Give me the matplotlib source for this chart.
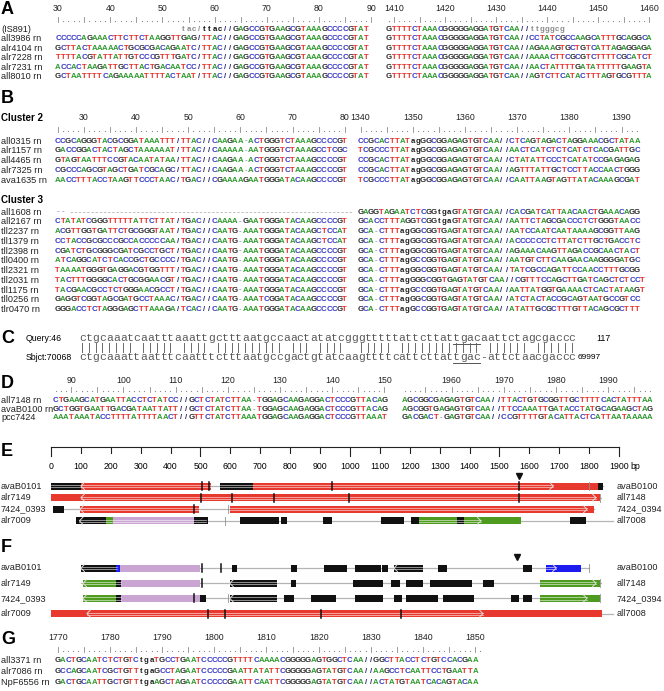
import matplotlib
matplotlib.use('Agg')
import matplotlib.pyplot as plt
from matplotlib.patches import Rectangle

plt.rcParams['font.family'] = ['Liberation Sans', 'DejaVu Sans']

# ---------------- panel A ----------------
a_names = ['all3986 rn', 'alr4104 rn', 'alr7228 rn', 'alr7231 rn', 'all8010 rn']
a_left = ['CCCCCAGAAACTTCTTCTAAGGTTGAG/TTAC//GAGCCGTGAAGCGTAAAGCCCCGTAT',
          'GCTTACTAAAAACTGCGCGACAGAATC/TTAC//GAGCCGTGAAGCGTAAAGCCCCGTAT',
          'TTTTACGTATTATTGTCCCGTTTGATC/TTAC//GAGCCGTGAAGCGTAAAGCCCCGTAT',
          'ACCACTAAGATTGCTTACTGACAATCC/TTAC//GAGCCGTGAAGCGTAAAGCCCCGTAT',
          'GCTAATTTTCAGAAAAATTTTACTAAT/TTAC//GAGCCGTGAAGCGTAAAGCCCCGTAT']
a_right = ['GTTTTCTAAACGGGGGAGGATGTCAA//CCTATCGCCAAGCATTTGCAGGCA',
           'GTTTTCTAAACGGGGGAGGATGTCAA//AGAAAGTGCTGTCATTAGAGGAGA',
           'GTTTTCTAAACGGGGGAGGATGTCAA//AAAACTTCGCGTCTTTTCGCATCT',
           'GTTTTCTAAACGGGGGAGGATGTCAA//AACTATTTTGATATTTTTGAAGTA',
           'GTTTTCTAAACGGGGGAGGATGTCAA//AGTCTTCATACTTTAGTGCGTTTA']
a_is891_left = ' ' * 24 + 'tac/ttac//GAGCCGTGAAGCGTAAAGCCCCGTAT'
a_is891_right = 'GTTTTCTAAACGGGGGAGGATGTCAA//ttgggcg'
a_ruler = [(30, 90), (1409, 1460)]

# ---------------- panel B ----------------
b2_names = ['all0315 rn', 'alr1157 rn', 'all4465 rn', 'alr7325 rn', 'ava1635 rn']
b2_left = ['CCGCAGGGTACGCGGATAAATTT/TTAC//CAAGAA-ACTGGGTCTAAAGCCCCGT',
           'GACCGGACTACTAGCTAAAAAAT/TTAC//CAAAAA-AATGGGTCTAAAGCCTCGC',
           'GTAGTAATTTCCGTACAATATAA/TTAC//CAAGAA-ACTGGGTCTAAAGCCCCGT',
           'CGCCCAGCGTAGCTGATCGCAGC/TTAC//CAAGAA-ACTGGGTCTAAAGCCCCGT',
           'AACCTTTACCTAAGTTCCCTAAC/TGAC//CGAAAAGAATGGGATACAAGCCCCGT']
b2_right = ['CCGCACTTATagGGCGGAGAGTGTCAA//CTCAGTAGACTAGGAAACGCTATAA',
            'TCGCCCTTATagGGCGGAGAGTGTCAA//AACTCATCTCTCATCTCACGATTGC',
            'CCGCACTTATagGGCGGAGAGTGTCAA//CTATATTCCCTCATATCCGAGAGAG',
            'CCGCACTTATagGGCGGAGAGTGTCAA//AGTTTATTGCTCCTTACCAACTGGG',
            'TCGCCCTTATagGGCGGAGAGTGTCAA//CAATTAAGTAGTTATACAAAGCGAT']
b3_names = ['all1608 rn', 'all2167 rn', 'tll2237 rn', 'tll1379 rn', 'tll2398 rn', 'tll0400 rn',
            'tll2321 rn', 'tll2031 rn', 'tll1175 rn', 'tll0256 rn', 'tlr0470 rn']
b3_left = ['--',
           'CTATATCGGGTTTTTATTCTTAT/TGAC//CAAAA-GAATGGGATACAAGCCCCGT',
           'ACGTTGGTGATTCTGCGGGTAAT/TGAC//CAATG-AAATGGGATACAAGCTCCAT',
           'CCTACCGCGCCCGCCACCCCCAA/TGAC//CAATG-AAATGGGATACAAGCTCCAT',
           'CGATCTGCGGGCGATCGCCTGCT/TGAC//CAATG-AAATGGGATACAAGCCCCGT',
           'ATCAGGCATCTCACCGCTGCCCC/TGAC//CAATG-AAATGGGATACAAGCCCCGT',
           'TAAAATGGGTGAGGACGTGGTTT/TGAC//CAATG-AAATGGGATACAAGCCCCGT',
           'TACTTTGGGGCACTGCGGAACGT/TGAC//CAATG-AAATGGGATACAAGCCCCGT',
           'TACGAACGCCTCTGGGAACGCCT/TGAC//CAATG-AAATGGGATACAAGCCCCGT',
           'GAGGTCGGTAGCGATGCCTAAAC/TGAC//CAATG-AAATCGGATACAAGCCCCGT',
           'GGGACCTCTAGGGAGCTTAAAGA/TCAC//CAATG-AAATGGGATACAAGCCCCGT']
b3_right = ['GAGGTAGAATCTCGGtgaGTATGTCAA//CACGATCATTAACAACTGAAACAGG',
            'GCACCTTTAGGTCGGtgaGTATGTCAA//AATTCTAGCGACCCTCTGGGTAACC',
            'GCA-CTTTagGGCGGTGAGTATGTCAA//AATCCAATCAATAAAAGCGGTTAAG',
            'GCA-CTTTagGGCGGTGAGTATGTCAA//ACCCCCCTCTTATCTTGCTGACCTC',
            'GCA-CTTTagGGCGGTGAGTATGTCAA//AGAAACAAGTTAGACCGCAACTACT',
            'GCA-CTTTagGCCGGTGAGTATGTCAA//AATGTCTTCAAGAACAAGGGGATGC',
            'GCA-CTTTagGGCGGTGAGTATGTCAA//TATCGCCAGATTCCAACCTTTGCGG',
            'GCA-CTTTagGGGCGGTGAGTATGTCAA//CGTTTCCAGCTTGATCAGCTCTCCT',
            'GCA-CTTTagGCCGGTGAGTATGTCAA//AATTATGGTGAAAACTCACTATAAGT',
            'GCA-CTTTagGGCGGTGAGTATGTCAA//ATCTACTACCGCAGTAATGCCGTCC',
            'GCA-CTTTagGCCGGTGAGTATGTCAA//ATATTGCGCTTTGTTACAGCGCTTT']
b_ruler = [(25, 80), (1340, 1393)]

# ---------------- panel C ----------------
c_query = 'ctgcaaatcaatttaaattgctttaatgccaactatatcgggtttttattcttattgacaattctagcgaccc'
c_sbjct = 'ctgcaaattaatttcaatttctttaatgccgactgtatcaagttttcattcttattgac-attctaacgaccc'
c_names = ['Query:46', 'Sbjct:70068']
c_ends = ['117', '69997']
c_motif = (55, 58)

# ---------------- panel D ----------------
d_names = ['all7148 rn', 'avaB0100 rn', 'pcc7424']
d_left = ['CTGAAGCATGAATTACCTCTATCC//GCTCTATCTTAA-TGGAGCAAGAGGACTCCCGTTACAG',
          'GCTGGTGAATTGACGATAATTATT//GCTCTATCTTAA-TGGAGCAAGAGGACTCCCGTTACAG',
          'AAATAAATACCTTTTATTTTAACT//GTTCTATCTTAAATGGAGCAAGAGGACTCCCGTTAAAT']
d_right = ['AGCGGCGAGAGTGTCAA//TTACTGTGCGGTTGCTTTTCACTATTTAA',
           'AGCGGTGAGAGTGTCAA//TTCCAAATTGATACCTATGCAGAAGCTAG',
           'GACGACT-GAGTGTCAA//CCGTTTTGTACATTACTCATTAATAAAAA']
d_ruler = [(87, 150), (1951, 1998)]

# ---------------- panels E / F (bp) ----------------
ef_left_names = ['avaB0101', 'alr7149', '7424_0393', 'alr7009']
ef_right_names = ['avaB0100', 'all7148', '7424_0394', 'all7008']
e_tracks = [
    dict(line=(0, 1845), segs=[(0, 100, 'k'), (100, 535, 'r'), (565, 676, 'k'), (676, 1836, 'r'), (1830, 1845, 'k')],
         ticks=[505, 528, 940, 1565], thin=[1800], arrows=[(0, 100, ''), (100, 535, '<'), (565, 1680, '>')]),
    dict(line=(0, 1840), segs=[(0, 1836, 'r')],
         ticks=[502, 605, 746, 997, 1565], thin=[1836], arrows=[(100, 1823, '<>')]),
    dict(line=(7, 1815), segs=[(7, 43, 'k'), (97, 495, 'r'), (598, 1815, 'r')],
         ticks=[478], thin=[592], arrows=[(97, 495, '<'), (598, 1793, '>')]),
    dict(line=(84, 1880), segs=[(84, 184, 'k'), (184, 207, 'g'), (207, 478, 'p'), (478, 526, 'k'), (632, 762, 'k'),
                                (769, 790, 'k'), (910, 940, 'k'), (1103, 1181, 'k'), (1204, 1231, 'k'),
                                (1231, 1572, 'g'), (1358, 1381, 'k'), (1736, 1790, 'k')],
         ticks=[], thin=[582], arrows=[(95, 520, '<'), (1231, 1438, '>')]),
]
f_tracks = [
    dict(line=(100, 1800), segs=[(100, 216, 'k'), (216, 230, 'b'), (230, 498, 'p'), (605, 622, 'k'), (803, 823, 'k'),
                                 (913, 990, 'k'), (1017, 1103, 'k'), (1107, 1127, 'k'), (1147, 1244, 'k'),
                                 (1294, 1324, 'k'), (1578, 1609, 'k'), (1656, 1773, 'b')],
         ticks=[505, 569], thin=[1800], arrows=[(100, 221, '<'), (1147, 1244, '<'), (1656, 1690, '>')]),
    dict(line=(100, 1840), segs=[(107, 217, 'g'), (217, 234, 'k'), (234, 498, 'p'), (598, 756, 'k'), (803, 819, 'k'),
                                 (1010, 1110, 'k'), (1137, 1167, 'k'), (1187, 1244, 'k'), (1267, 1408, 'k'),
                                 (1445, 1482, 'k'), (1635, 1836, 'g')],
         ticks=[505], thin=[1836], arrows=[(107, 234, '<'), (598, 756, '<'), (1635, 1823, '>')]),
    dict(line=(107, 1836), segs=[(107, 217, 'g'), (217, 234, 'k'), (234, 498, 'p'), (498, 519, 'k'), (598, 756, 'k'),
                                 (779, 812, 'k'), (870, 953, 'k'), (1017, 1110, 'k'), (1147, 1174, 'k'),
                                 (1187, 1294, 'k'), (1311, 1415, 'k'), (1538, 1565, 'k'), (1578, 1609, 'k'),
                                 (1635, 1836, 'g')],
         ticks=[478], thin=[592, 1836], arrows=[(107, 234, '<'), (598, 756, '<'), (1635, 1793, '>')]),
    dict(line=(0, 1880), segs=[(0, 1843, 'r')],
         ticks=[525, 582, 903, 1170], thin=[], arrows=[(120, 1445, '<>')]),
]
e_marker = 1565
f_marker = 1560
e_scale = list(range(0, 2000, 100))

# ---------------- panel G ----------------
g_names = ['all3371 rn', 'alr7086 rn', 'NpF6556 rn']
g_seqs = ['GACTGCAATCTCTGTCtgaTGCCTGAATCCCCCGTTTTCAAAACGGGGGAGTGGCTCAA//GGCTTACCTCTGTCCACGAA',
          'GCCAGCAATCGCTGTTtgaGCCTAGAATCCCCCGAATTATATTCGGGGGAGTATGTCAA//AAGCCTCAATTCCTGAATTA',
          'GACTGCAATTGCTGTTtgaAGCTAGAATCCCCCGAATTCAATTCGGGGGAGTATGTCAA//ACTATGTAATCACAGTACAA']
g_ruler = (1770, 1851)

# ---------------- drawing helpers ----------------
BASE = {'A': '#2f9a2f', 'C': '#3434c8', 'G': '#262626', 'T': '#e2302b',
        '-': '#8a9cc8', '/': '#2c2c72'}
TRK = {'r': '#e8392f', 'k': '#111111', 'g': '#4e9b1f', 'p': '#caa5d4', 'b': '#1c1cf0'}
CW = 5.22
SEQ_FS = 5.6
LAB_FS = 6.6
NUM_FS = 6.3

fig = plt.figure(figsize=(6.64, 6.91), dpi=100)
ax = fig.add_axes([0, 0, 1, 1])
ax.set_xlim(0, 664)
ax.set_ylim(691, 0)
ax.axis('off')


def seq_row(x0, y, s, colors=None, cw=CW):
    for i, ch in enumerate(s):
        if ch == ' ':
            continue
        c = colors[i] if colors else BASE.get(ch, '#222222')
        ax.text(x0 + i * cw, y, ch, color=c, fontsize=SEQ_FS, fontweight='bold',
                ha='center', va='center')


def ruler(x0, y, ylab, start, stop, cw=CW):
    for i, p in enumerate(range(start, stop + 1)):
        x = x0 + i * cw
        if p % 5 == 0:
            ax.plot([x, x], [y - 3.5, y + 1.5], color='#8c8c8c', lw=0.6)
        else:
            ax.plot([x], [y + 1.2], marker='s', ms=0.8, color='#8c8c8c', mew=0)
        if p % 10 == 0:
            ax.text(x, ylab, str(p), fontsize=NUM_FS, ha='center', va='center', color='#222222')


def label(y, txt, x=1):
    ax.text(x, y, txt, fontsize=LAB_FS, ha='left', va='center', color='#222222')


def panel(y, letter):
    ax.text(1, y, letter, fontsize=13, fontweight='bold', ha='left', va='center')


def bx(bp):
    return 51 + bp * 568 / 1900


def track(y, t, h=7):
    a, b = t['line']
    ax.plot([bx(a), bx(b)], [y, y], color='#b4b4b4', lw=0.9, zorder=1)
    for s, e, c in t['segs']:
        ax.add_patch(Rectangle((bx(s), y - h / 2), bx(e) - bx(s), h, color=TRK[c], lw=0, zorder=2))
    for s, e, heads in t['arrows']:
        x1, x2 = bx(s), bx(e)
        for dy in (-1.1, 1.1):
            ax.plot([x1, x2], [y + dy, y + dy], color='white', lw=0.5, alpha=0.75, zorder=3)
        if '<' in heads:
            ax.plot([x1 + 3.5, x1, x1 + 3.5], [y - 3.5, y, y + 3.5], color='#dddddd', lw=0.7, zorder=3)
        if '>' in heads:
            ax.plot([x2 - 3.5, x2, x2 - 3.5], [y - 3.5, y, y + 3.5], color='#dddddd', lw=0.7, zorder=3)
    for p in t['ticks']:
        ax.plot([bx(p)] * 2, [y - h / 2 - 0.5, y + h / 2 + 0.5], color='#111111', lw=1.1, zorder=4)
    for p in t['thin']:
        ax.plot([bx(p)] * 2, [y - h / 2 - 0.5, y + h / 2 + 0.5], color='#909090', lw=0.6, zorder=4)


# ---------------- A ----------------
panel(9, 'A')
ruler(58, 20, 8, *a_ruler[0])
ruler(389, 20, 8, *a_ruler[1], cw=5.1)
label(29, '(IS891)')
is_cols = []
for i, ch in enumerate(a_is891_left):
    if 24 <= i <= 27:
        is_cols.append('#8a8a8a')
    elif ch.islower():
        is_cols.append('#111111')
    else:
        is_cols.append(BASE.get(ch, '#222222'))
seq_row(58, 29, a_is891_left, is_cols)
seq_row(389, 29, a_is891_right,
        ['#8a8a8a' if ch.islower() else BASE.get(ch, '#222222') for ch in a_is891_right], cw=5.1)
for k, name in enumerate(a_names):
    y = 38.5 + 9.5 * k
    label(y, name)
    seq_row(58, y, a_left[k])
    seq_row(389, y, a_right[k], cw=5.1)

# ---------------- B ----------------
panel(98, 'B')
ax.text(1, 118, 'Cluster 2', fontsize=7, fontweight='bold', ha='left', va='center')
ruler(57.6, 130, 117, *b_ruler[0])
ruler(360.5, 130, 117, *b_ruler[1])
for k, name in enumerate(b2_names):
    y = 141 + 9.8 * k
    label(y, name)
    seq_row(57.6, y, b2_left[k])
    seq_row(360.5, y, b2_right[k])

ax.text(1, 200, 'Cluster 3', fontsize=7, fontweight='bold', ha='left', va='center')
for k, name in enumerate(b3_names):
    y = 212 + 9.75 * k
    label(y, name)
    seq_row(57.6, y, b3_left[k])
    seq_row(360.5, y, b3_right[k])
    if b3_left[k] == '--':
        ax.plot([70, 352], [y, y], color='#b8b8b8', lw=0.6, ls=(0, (3, 2)))

# ---------------- C ----------------
panel(338, 'C')
c_x0, c_cw = 82.4, 6.8
bars = ''.join('|' if q == s else ' ' for q, s in zip(c_query, c_sbjct))
for row, (txt, yy) in enumerate([(c_query, 338), (bars, 347.5), (c_sbjct, 357)]):
    for i, ch in enumerate(txt):
        if ch != ' ':
            ax.text(c_x0 + i * c_cw, yy, ch, fontsize=8.2, family='Liberation Mono',
                    color='#5a5a5a', ha='center', va='center')
ax.text(26, 338, c_names[0], fontsize=6.3, ha='left', va='center')
ax.text(26, 357, c_names[1], fontsize=6.3, ha='left', va='center')
ax.text(596, 338, c_ends[0], fontsize=6.3, ha='left', va='center')
ax.text(578, 357, c_ends[1], fontsize=6.0, ha='left', va='center')
m0, m1 = c_motif
for yy in (343.5, 362.5):
    ax.plot([c_x0 + m0 * c_cw - 3.4, c_x0 + m1 * c_cw + 3.4], [yy, yy], color='#555555', lw=0.7)

# ---------------- D ----------------
panel(383, 'D')
ruler(55.6, 390, 380, *d_ruler[0])
ruler(404.6, 390, 380, *d_ruler[1])
for k, name in enumerate(d_names):
    y = 400.5 + 8.7 * k
    label(y, name)
    seq_row(55.6, y, d_left[k])
    seq_row(404.6, y, d_right[k])

# ---------------- E ----------------
panel(451, 'E')
ax.plot([bx(0), bx(1900)], [447, 447], color='#222222', lw=0.8)
for p in e_scale:
    tall = p % 500 == 0 or p == 1900
    ax.plot([bx(p)] * 2, [447, 456 if tall else 452.5], color='#222222', lw=0.8)
    ax.text(bx(p), 466, str(p), fontsize=6.3, ha='center', va='center')
ax.text(bx(1900) + 11.5, 466, 'bp', fontsize=6.3, ha='left', va='center')
ax.plot([bx(e_marker)], [476], marker='v', ms=5, color='#111111')
for k, t in enumerate(e_tracks):
    y = 486 + 11.6 * k
    track(y, t)
    label(y, ef_left_names[k])
    label(y, ef_right_names[k], x=617)

# ---------------- F ----------------
panel(548, 'F')
ax.plot([bx(f_marker)], [557], marker='v', ms=5, color='#111111')
for k, t in enumerate(f_tracks):
    y = 568 + 15.2 * k
    track(y, t)
    label(y, ef_left_names[k])
    label(y, ef_right_names[k], x=617)

# ---------------- G ----------------
panel(640, 'G')
ruler(57.6, 650, 638, *g_ruler)
for k, name in enumerate(g_names):
    y = 660.5 + 11 * k
    label(y, name)
    seq_row(57.6, y, g_seqs[k])

fig.savefig('out.png', dpi=100)
